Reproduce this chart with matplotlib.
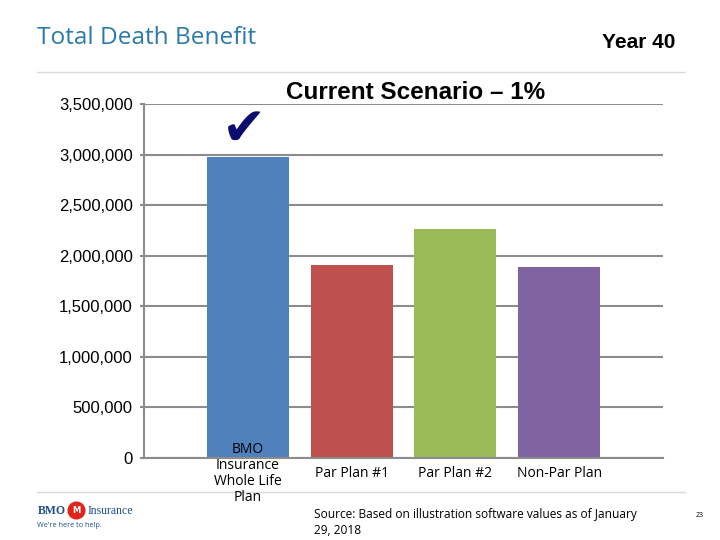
#Librerias
import matplotlib.pyplot as plt
from matplotlib.lines import Line2D
from matplotlib.ticker import FuncFormatter, MultipleLocator

#Datos del grafico
categorias = ['BMO\nInsurance\nWhole Life\nPlan', 'Par Plan #1', 'Par Plan #2', 'Non-Par Plan']
valores = [2975000, 1905000, 2262000, 1887000]
colores = ['#4F81BD', '#C0504D', '#9BBB59', '#8064A2']
posiciones = [1, 2, 3, 4]

titulo = 'Total Death Benefit'
subtitulo = 'Year 40'
titulo_grafico = 'Current Scenario \u2013 1%'
fuente = 'Source: Based on illustration software values as of January\n29, 2018'

gris = '#8C8C8C'

#Figura y ejes
fig = plt.figure(figsize=(7.2, 5.4), dpi=100)
ax = fig.add_axes([0.2, 0.1519, 0.7208, 0.6555])
ax.patch.set_alpha(0)

# Barras
ax.bar(posiciones, valores, width=0.79, color=colores, zorder=2)

# Limites y ticks
ax.set_xlim(0, 5)
ax.set_ylim(0, 3500000)
ax.yaxis.set_major_locator(MultipleLocator(500000))
ax.yaxis.set_major_formatter(FuncFormatter(lambda v, p: '{:,.0f}'.format(v)))
ax.set_xticks(posiciones)
ax.set_xticklabels(categorias, va='center', ha='center', multialignment='center',
                   fontsize=10, family='Open Sans', linespacing=1.08)
ax.tick_params(axis='x', length=0, pad=11)
ax.tick_params(axis='y', length=3, width=1.5, color=gris, pad=5,
               labelsize=12, labelfontfamily='Liberation Sans')

# Rejilla por debajo de las barras, etiquetas del eje x por encima
ax.grid(axis='y', color=gris, linewidth=1.5)
ax.yaxis.set_zorder(0.5)
ax.xaxis.set_zorder(3)
for lado in ['top', 'right']:
    ax.spines[lado].set_visible(False)
for lado in ['left', 'bottom']:
    ax.spines[lado].set_color(gris)
    ax.spines[lado].set_linewidth(1.5)

# Marca de verificacion sobre la primera barra
ax.annotate('\u2714', xy=(posiciones[0], valores[0]), xytext=(-3, 1),
            textcoords='offset points', ha='center', va='bottom',
            fontsize=38, color='#0B0B70', family='DejaVu Sans')

# Titulos
fig.text(0.0514, 0.929, titulo, fontsize=17.6, color='#2B7BAA', family='Open Sans', va='center')
fig.text(0.9375, 0.922, subtitulo, fontsize=15, weight='bold', family='Liberation Sans',
         ha='right', va='center')
fig.text(0.577, 0.829, titulo_grafico, fontsize=17.5, weight='bold', family='Liberation Sans',
         ha='center', va='center')

# Lineas separadoras (por detras de los ejes)
fig.add_artist(Line2D([0.0514, 0.951], [0.8667, 0.8667], color='#D9D9D9', lw=1,
                      transform=fig.transFigure, zorder=-1))
fig.add_artist(Line2D([0.0514, 0.951], [0.0889, 0.0889], color='#D9D9D9', lw=1,
                      transform=fig.transFigure, zorder=-1))

# Fuente y numero de pagina
fig.text(0.436, 0.032, fuente, fontsize=8.6, family='Open Sans', va='center', linespacing=1.25)
fig.text(0.972, 0.046, '23', fontsize=5, family='Open Sans', va='center', ha='center')

# Logo aproximado
fig.text(0.052, 0.054, 'BMO', fontsize=8.5, weight='bold', family='Liberation Serif',
         color='#1F4E8C', va='center')
fig.add_artist(Line2D([0.1056], [0.056], marker='o', markersize=12, color='#E2231A',
                      transform=fig.transFigure))
fig.text(0.1056, 0.055, 'M', fontsize=6, weight='bold', color='white', ha='center',
         va='center', family='DejaVu Sans')
fig.text(0.122, 0.054, 'Insurance', fontsize=8.5, family='Liberation Serif',
         color='#1F4E8C', va='center')
fig.text(0.052, 0.027, "We're here to help.", fontsize=5.2, family='Open Sans',
         color='#1F4E8C', va='center')

fig.savefig('out.png', dpi=100)
